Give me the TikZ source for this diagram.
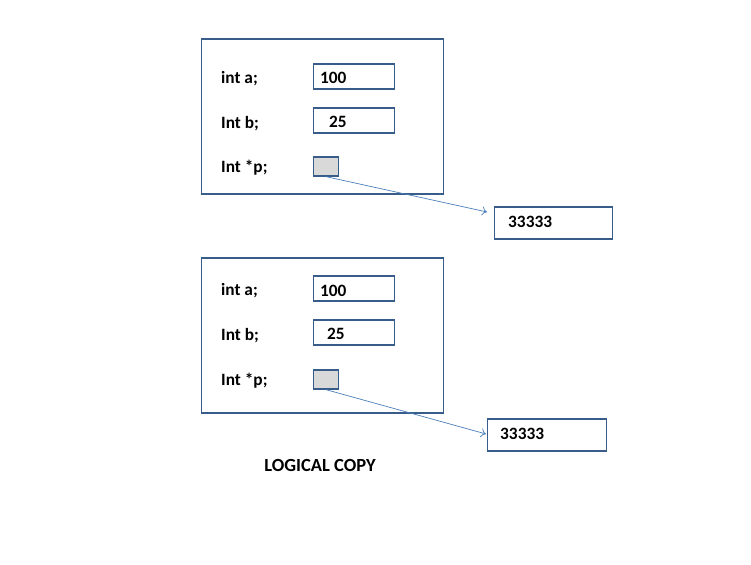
\documentclass[tikz,border=0pt]{standalone}
\usepackage{fontspec}
\setmainfont{Carlito}
\usetikzlibrary{arrows.meta}
\definecolor{boxblue}{HTML}{385D8A}
\definecolor{arrowblue}{HTML}{4A7EBB}
\definecolor{ptrgray}{HTML}{D9D9D9}
\begin{document}
\begin{tikzpicture}[x=1pt,y=-1pt,
  frame/.style={draw=boxblue,line width=1.6pt,inner sep=0pt,anchor=north west},
  valbox/.style={draw=boxblue,line width=1.6pt,inner sep=0pt,anchor=north west},
  ptrbox/.style={draw=boxblue,line width=1.6pt,fill=ptrgray,inner sep=0pt,anchor=north west,minimum width=25pt,minimum height=19pt},
  lbl/.style={anchor=west,font=\fontsize{17.3}{19}\selectfont\bfseries,inner sep=0pt},
  ptr/.style={draw=arrowblue,line width=0.7pt,-{To[length=5pt,width=9pt]}}]
\useasboundingbox (0,0) rectangle (751,564);
% top
\node[frame,minimum width=242pt,minimum height=155pt] (outerA) at (200.5,38) {};
\node[valbox,minimum width=81pt,minimum height=25pt] (aA) at (312.5,63) {};
\node[valbox,minimum width=81pt,minimum height=25pt] (bA) at (312.5,107) {};
\node[ptrbox] (pA) at (312.5,156) {};
\node[valbox,minimum width=118pt,minimum height=32pt] (tA) at (493.5,206) {};
\node[lbl] (la1) at (221,79) {int a;};
\node[lbl] (la2) at (221,124) {Int b;};
\node[lbl] (la3) at (221,168) {Int *p;};
\node[lbl] (va1) at (320,78) {100};
\node[lbl] (va2) at (329,122) {25};
\node[lbl] (va3) at (508,222) {33333};
\coordinate (endA) at (487,212);
\draw[ptr] (pA.south) -- (endA);
% bottom
\node[frame,minimum width=242pt,minimum height=155pt] (outerB) at (200.5,257) {};
\node[valbox,minimum width=81pt,minimum height=25pt] (aB) at (312.5,275) {};
\node[valbox,minimum width=81pt,minimum height=25pt] (bB) at (312.5,319) {};
\node[ptrbox] (pB) at (312.5,369) {};
\node[valbox,minimum width=119pt,minimum height=32pt] (tB) at (486.5,418) {};
\node[lbl] (lb1) at (221,291) {int a;};
\node[lbl] (lb2) at (221,336) {Int b;};
\node[lbl] (lb3) at (221,381) {Int *p;};
\node[lbl] (vb1) at (320,291) {100};
\node[lbl] (vb2) at (327,334) {25};
\node[lbl] (vb3) at (500,434) {33333};
\coordinate (endB) at (486,434);
\draw[ptr] (pB.south) -- (endB);
\node[lbl,anchor=center,font=\fontsize{18.5}{20}\selectfont\bfseries] (cap) at (320,465) {LOGICAL COPY};
\end{tikzpicture}
\end{document}
